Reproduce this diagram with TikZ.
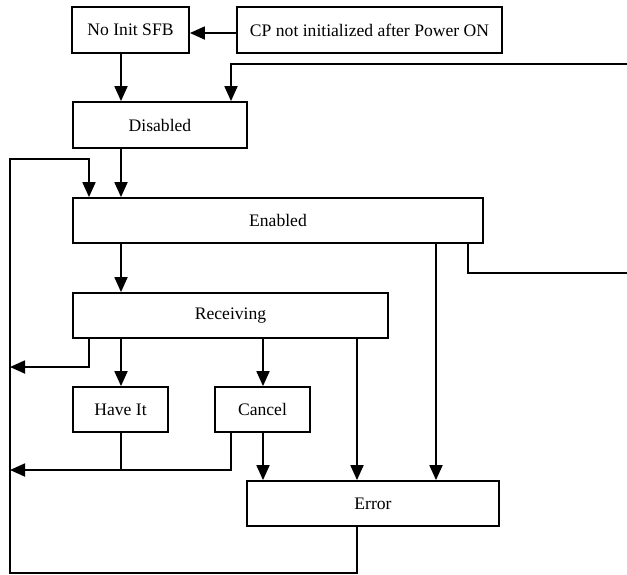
\documentclass[tikz,border=0pt]{standalone}
\usepackage{fontspec}
\setmainfont{Liberation Serif}
\usetikzlibrary{arrows.meta}
\begin{document}
\begin{tikzpicture}[x=1pt,y=-1pt,
  box/.style={draw,line width=1.8pt,inner sep=0pt,font=\fontsize{17.6}{20}\selectfont},
  conn/.style={line width=1.8pt},
  arr/.style={conn,-{Triangle[length=15pt,width=13pt]}}]
\useasboundingbox (0,0) rectangle (627,574);
% nodes
\node[box,minimum width=117pt,minimum height=46pt] (noinit) at (130.5,30) {No Init SFB};
\node[box,minimum width=265pt,minimum height=46pt] (cp) at (369.5,30) {CP not initialized after Power ON};
\node[box,minimum width=174pt,minimum height=46pt] (disabled) at (160,125) {Disabled};
\node[box,minimum width=410pt,minimum height=45pt] (enabled) at (278,220.5) {Enabled};
\node[box,minimum width=315pt,minimum height=45pt] (receiving) at (230.5,315.5) {Receiving};
\node[box,minimum width=95pt,minimum height=45pt] (haveit) at (120.5,409.5) {Have It};
\node[box,minimum width=95pt,minimum height=45pt] (cancel) at (262.5,409.5) {Cancel};
\node[box,minimum width=252pt,minimum height=45pt] (error) at (373,503.5) {Error};
% column / row coordinates
\coordinate (cL) at (10,0);
\coordinate (c89) at (89,0);
\coordinate (c121) at (121,0);
\coordinate (c231) at (231,0);
\coordinate (c263) at (263,0);
\coordinate (c357) at (357,0);
\coordinate (c436) at (436,0);
\coordinate (c468) at (468,0);
\coordinate (cR) at (627,0);
\coordinate (r33) at (0,33);
\coordinate (r64) at (0,64);
\coordinate (r159) at (0,159);
\coordinate (r273) at (0,273);
\coordinate (r367) at (0,367);
\coordinate (r470) at (0,470);
\coordinate (r573) at (0,573);
% connectors
\draw[arr] (cp.west |- r33) -- (noinit.east |- r33);
\draw[arr] (noinit.south -| c121) -- (disabled.north -| c121);
\draw[arr] (cR |- r64) -| (disabled.north -| c231);
\draw[conn] (enabled.south -| c468) |- (cR |- r273);
\draw[arr] (disabled.south -| c121) -- (enabled.north -| c121);
\draw[arr] (error.south -| c357) |- (cL |- r573) -- (cL |- r159) -| (enabled.north -| c89);
\draw[arr] (enabled.south -| c121) -- (receiving.north -| c121);
\draw[arr] (enabled.south -| c436) -- (error.north -| c436);
\draw[arr] (receiving.south -| c89) |- (cL |- r367);
\draw[arr] (receiving.south -| c121) -- (haveit.north -| c121);
\draw[arr] (receiving.south -| c263) -- (cancel.north -| c263);
\draw[arr] (receiving.south -| c357) -- (error.north -| c357);
\draw[conn] (haveit.south -| c121) |- (c231 |- r470) -- (cancel.south -| c231);
\draw[arr] (c121 |- r470) -- (cL |- r470);
\draw[arr] (cancel.south -| c263) -- (error.north -| c263);
\end{tikzpicture}
\end{document}
